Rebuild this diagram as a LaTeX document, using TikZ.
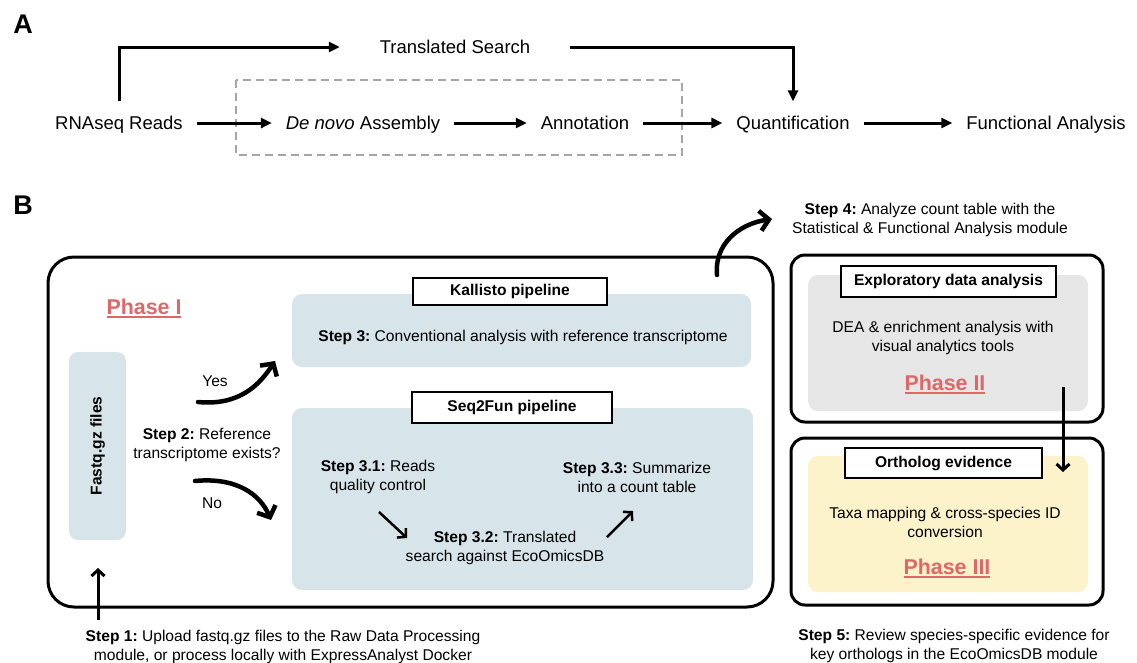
\documentclass[tikz,border=0pt]{standalone}
\usepackage{fontspec}
\setmainfont{Liberation Sans}
\usetikzlibrary{arrows.meta,positioning}

\definecolor{pipeblue}{RGB}{215,228,234}
\definecolor{edagray}{RGB}{230,230,230}
\definecolor{orthoyellow}{RGB}{252,243,203}
\definecolor{phasered}{RGB}{222,104,104}
\definecolor{dashgray}{RGB}{165,165,165}

% underlined phase title
\newsavebox\phbox
\newcommand{\phaseul}[1]{\sbox\phbox{#1}\rlap{\rule[-3.5pt]{\wd\phbox}{2.3pt}}\usebox\phbox}

\frenchspacing

\begin{document}
\begin{tikzpicture}[x=1pt,y=-1pt,
	atxt/.style={font=\fontsize{18.5}{22}\selectfont, inner sep=0pt, text height=13.3pt, text depth=0pt, outer xsep=14pt, outer ysep=15pt},
	btxt/.style={font=\fontsize{15.6}{19}\selectfont, align=center, inner sep=0pt},
	flow/.style={line width=3pt, -{Triangle[length=11pt,width=10pt]}},
	pipebox/.style={fill=pipeblue, rounded corners=10pt, inner sep=0pt},
	tagbox/.style={draw, fill=white, line width=2.5pt, font=\fontsize{15.6}{19}\selectfont\bfseries, inner sep=0pt},
	outerbox/.style={draw, line width=3pt, inner sep=0pt},
	bendarr/.style={line width=4.5pt, line cap=round, -{Straight Barb[length=9pt,width=20pt]}},
	thinarr/.style={line width=2.5pt, -{Straight Barb[length=6pt,width=13pt]}},
	phasetxt/.style={font=\fontsize{21.4}{24}\selectfont\bfseries, text=phasered, inner sep=0pt},
	panel/.style={font=\fontsize{27}{28}\selectfont\bfseries, inner sep=0pt}]

	\useasboundingbox (0,0) rectangle (1137,662);

	% ---- panel A ----
	\node[panel] (labA) at (23,24) {A};

	\draw[dashgray, line width=1.5pt, dash pattern=on 8pt off 5pt] (236,80) rectangle (682,155);

	\node[atxt] (reads) at (119,123) {RNAseq Reads};
	\node[atxt] (assembly) at (363,123) {\textit{De novo} Assembly};
	\node[atxt] (annot) at (585,123) {Annotation};
	\node[atxt] (quant) at (793,123) {Quantification};
	\node[atxt] (func) at (1046,123) {Functional Analysis};
	\node[atxt] (search) at (455,47) {Translated Search};

	\draw[flow] (reads) -- (assembly);
	\draw[flow] (assembly) -- (annot);
	\draw[flow] (annot) -- (quant);
	\draw[flow] (quant) -- (func);
	\draw[flow] (reads.north) |- ([xshift=-26pt]search.west);
	\draw[flow] ([xshift=26pt]search.east) -| (quant.north);

	% ---- panel B ----
	\node[panel] (labB) at (23,205) {B};

	% Phase I
	\node[outerbox, rounded corners=26pt, minimum width=725pt, minimum height=350pt] (p1box) at (410.5,432) {};
	\node[phasetxt] (ph1) at (144,308.5) {\phaseul{Phase I}};

	\node[pipebox, rounded corners=9pt, minimum width=188pt, minimum height=57pt, rotate=90,
		font=\fontsize{15.6}{19}\selectfont\bfseries] (fastq) at (97.5,446) {Fastq.gz files};

	\node[pipebox, minimum width=459pt, minimum height=73pt] (kbox) at (521.5,330.5) {};
	\node[tagbox, minimum width=194pt, minimum height=27pt] (ktag) at (510,291.5) {Kallisto pipeline};
	\node[btxt] (s3) at (523,337.5) {\textbf{Step 3:} Conventional analysis with reference transcriptome};

	\node[pipebox, minimum width=461pt, minimum height=182pt] (sbox) at (522.5,499) {};
	\node[tagbox, minimum width=200pt, minimum height=31pt] (stag) at (512,407.5) {Seq2Fun pipeline};
	\node[btxt] (s31) at (378,477) {\textbf{Step 3.1:} Reads\\quality control};
	\node[btxt] (s32) at (505,548) {\textbf{Step 3.2:} Translated\\search against EcoOmicsDB};
	\node[btxt] (s33) at (637,477) {\textbf{Step 3.3:} Summarize\\into a count table};

	\node[btxt] (s2) at (207,445) {\textbf{Step 2:} Reference\\transcriptome exists?};
	\node[btxt] (yes) at (215,381) {Yes};
	\node[btxt] (no) at (212,503) {No};

	\coordinate (yesS) at (198,402);
	\coordinate (yesE) at (275,361);
	\coordinate (noS) at (195,481);
	\coordinate (noE) at (271,520);
	\draw[bendarr] (yesS) .. controls (240,406) and (260,384) .. (yesE);
	\draw[bendarr] (noS) .. controls (236,477) and (260,494) .. (noE);

	\coordinate (q31) at (379,512);
	\coordinate (q32a) at (407,538);
	\coordinate (q32b) at (607,537);
	\coordinate (q33) at (633,511);
	\draw[thinarr] (q31) -- (q32a);
	\draw[thinarr] (q32b) -- (q33);

	% step 1 and step 4
	\node[btxt] (s1) at (283,647) {\textbf{Step 1:} Upload fastq.gz files to the Raw Data Processing\\module, or process locally with ExpressAnalyst Docker};
	\coordinate (up1) at (98,620);
	\coordinate (up2) at (98,568);
	\draw[thinarr, line width=3pt] (up1) -- (up2);

	\node[btxt] (s4) at (930,220) {\textbf{Step 4:} Analyze count table with the\\Statistical \& Functional Analysis module};
	\coordinate (s4S) at (717,275);
	\coordinate (s4E) at (772,219);
	\draw[bendarr] (s4S) .. controls (714,245) and (738,224) .. (s4E);

	% Phase II
	\node[outerbox, rounded corners=14pt, minimum width=312pt, minimum height=167pt] (p2box) at (947,338.5) {};
	\node[pipebox, fill=edagray, minimum width=280pt, minimum height=136pt] (edabox) at (948,343) {};
	\node[tagbox, minimum width=215pt, minimum height=31pt] (edatag) at (948.5,281.5) {Exploratory data analysis};
	\node[btxt] (dea) at (943,338) {DEA \& enrichment analysis with\\visual analytics tools};
	\node[phasetxt] (ph2) at (945,384.5) {\phaseul{Phase II}};

	% Phase III
	\node[outerbox, rounded corners=14pt, minimum width=312pt, minimum height=167pt] (p3box) at (947,521.5) {};
	\node[pipebox, fill=orthoyellow, minimum width=280pt, minimum height=136pt] (orthobox) at (948,524) {};
	\node[tagbox, minimum width=197pt, minimum height=30pt] (orthotag) at (943.5,463) {Ortholog evidence};
	\node[btxt] (taxa) at (945,522) {Taxa mapping \& cross-species ID\\conversion};
	\node[phasetxt] (ph3) at (947,568.5) {\phaseul{Phase III}};

	\coordinate (p2a) at (1063,387);
	\coordinate (p3a) at (1063,472);
	\draw[thinarr, line width=3pt] (p2a) -- (p3a);

	\node[btxt] (s5) at (954,645.5) {\textbf{Step 5:} Review species-specific evidence for\\key orthologs in the EcoOmicsDB module};
\end{tikzpicture}
\end{document}
